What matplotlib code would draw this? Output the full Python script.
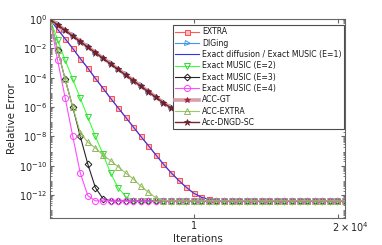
import numpy as np
import matplotlib
matplotlib.use("Agg")
import matplotlib.pyplot as plt
from matplotlib.ticker import LogLocator, NullFormatter, FixedLocator

# ---------------- data (log10 of relative error at each marker) ----------------
iters = np.linspace(0, 20500, 40)
FLOOR = -12.4

slow_log = [0, -0.38, -0.76, -1.14, -1.52, -1.9, -2.28, -2.66, -3.04, -3.42,
            -3.8, -4.18, -4.56, -4.94, -5.32, -5.7, -6.05, -6.3, -6.45, -6.55,
            -6.62, -6.68, -6.72, -6.75, -6.78, -6.81, -6.83, -6.86, -6.89, -6.92,
            -6.95, -6.98, -7.01, -7.04, -7.07, -7.10, -7.13, -7.16, -7.19, -7.23]
diging_log = [v + 0.03 for v in slow_log]
accgt_log = list(slow_log)
dngd_log = [v - 0.02 for v in slow_log]

extra_log = [0, -0.7, -1.35, -2.0, -2.7, -3.35, -4.05, -4.72, -5.4, -6.05,
             -6.7, -7.35, -8.0, -8.63, -9.27, -9.9, -10.48, -11.0, -11.47, -11.88,
             -12.15, -12.3, -12.37] + [FLOOR] * 17
exact_diff_log = list(extra_log)

music2_log = [0, -1.4, -2.8, -4.1, -5.4, -6.7, -8.0, -9.2, -10.5, -11.5,
              -12.1] + [FLOOR] * 29
music3_log = [0, -2.1, -4.1, -6.0, -8.0, -9.9, -11.5, -12.25] + [FLOOR] * 32
music4_log = [0, -2.8, -5.36, -7.98, -10.5, -12.05] + [FLOOR] * 34
accextra_log = [0, -2.1, -4.1, -6.0, -7.75, -8.4, -8.8, -9.27, -9.66, -10.07,
                -10.5, -10.9, -11.4, -11.8, -12.2, -12.38] + [FLOOR] * 24

labels = ["EXTRA", "DIGing", "Exact diffusion / Exact MUSIC (E=1)",
          "Exact MUSIC (E=2)", "Exact MUSIC (E=3)", "Exact MUSIC (E=4)",
          "ACC-GT", "ACC-EXTRA", "Acc-DNGD-SC"]

# ---------------- figure ----------------
plt.rcParams['font.family'] = ['DejaVu Sans']
fig = plt.figure(figsize=(3.82, 2.45), dpi=100)
ax = fig.add_axes([50/382, 1-218/245, 295/382, 199/245])

def y(v):
    return 10.0 ** np.array(v)

lw = 0.8
ax.semilogy(iters, y(extra_log), color=(1.0, 0.35, 0.35), lw=lw, marker='s', ms=3.6,
            mfc=(1.0, 0.75, 0.75), mec=(1.0, 0.3, 0.3), mew=0.7, label=labels[0])
ax.semilogy(iters, y(diging_log), color=(0.25, 0.6, 0.9), lw=lw, marker='>', ms=3.6,
            mfc='none', mec=(0.25, 0.6, 0.9), mew=0.7, label=labels[1])
ax.semilogy(iters, y(exact_diff_log), color=(0.2, 0.2, 0.95), lw=0.8, label=labels[2])
ax.semilogy(iters, y(music2_log), color=(0.25, 1.0, 0.25), lw=lw, marker='v', ms=4.2,
            mfc='none', mec=(0.2, 0.85, 0.2), mew=0.7, label=labels[3])
ax.semilogy(iters, y(music3_log), color=(0.15, 0.15, 0.15), lw=lw, marker='D', ms=3.4,
            mfc='none', mec=(0.1, 0.1, 0.1), mew=0.7, label=labels[4])
ax.semilogy(iters, y(music4_log), color=(1.0, 0.3, 1.0), lw=lw, marker='o', ms=4.4,
            mfc='none', mec=(1.0, 0.25, 1.0), mew=0.7, label=labels[5])
ax.semilogy(iters, y(accgt_log), color=(0.85, 0.62, 0.66), lw=2.6, marker='*', ms=4.0,
            mfc=(0.65, 0.1, 0.25), mec=(0.65, 0.1, 0.25), mew=0.5, label=labels[6])
ax.semilogy(iters, y(accextra_log), color=(0.62, 0.78, 0.4), lw=lw, marker='^', ms=4.2,
            mfc='none', mec=(0.55, 0.72, 0.35), mew=0.7, label=labels[7])
ax.semilogy(iters, y(dngd_log), color=(0.45, 0.15, 0.18), lw=1.0, marker='*', ms=4.6,
            mfc=(0.45, 0.15, 0.18), mec=(0.4, 0.12, 0.15), mew=0.5, label=labels[8])

ax.set_xlim(0, 20500)
ax.set_ylim(10 ** -13.57, 1)

ax.xaxis.set_major_locator(FixedLocator([10000, 20000]))
ax.set_xticklabels(["1", ""])
ax.yaxis.set_major_locator(FixedLocator([10.0 ** k for k in range(-12, 1, 2)]))
ax.set_yticklabels([r"$10^{%d}$" % k for k in range(-12, 1, 2)])
ax.yaxis.set_minor_locator(LogLocator(base=10, subs=np.arange(2, 10), numticks=30))
ax.yaxis.set_minor_formatter(NullFormatter())

grey = (0.4, 0.4, 0.4)
for s in ax.spines.values():
    s.set_color(grey)
    s.set_linewidth(0.8)
ax.tick_params(which='both', direction='in', top=True, right=True, colors=grey,
               labelcolor=(0.15, 0.15, 0.15), labelsize=7, pad=2)
ax.tick_params(which='major', length=3)
ax.tick_params(which='minor', length=1.5)

fig.text(332/382, 1-232/245, r"$2\times10^{4}$", fontsize=7, color=(0.15, 0.15, 0.15),
         ha='left', va='baseline')

ax.set_xlabel("Iterations", fontsize=7.5, color=(0.15, 0.15, 0.15), labelpad=2)
ax.set_ylabel("Relative Error", fontsize=7.5, color=(0.15, 0.15, 0.15))
ax.yaxis.set_label_coords((17 - 50) / 295, 0.5)

leg = ax.legend(loc='upper right', bbox_to_anchor=(344/382, 1-25/245),
                bbox_transform=fig.transFigure, fontsize=5.6, frameon=True,
                fancybox=False, edgecolor=(0.3, 0.3, 0.3), framealpha=1,
                handlelength=3.1, handletextpad=0.35, labelspacing=0.3,
                borderpad=0.3, borderaxespad=0)
leg.get_frame().set_linewidth(0.8)
for t in leg.get_texts():
    t.set_color((0.1, 0.1, 0.1))

fig.savefig("out.png", dpi=100)
